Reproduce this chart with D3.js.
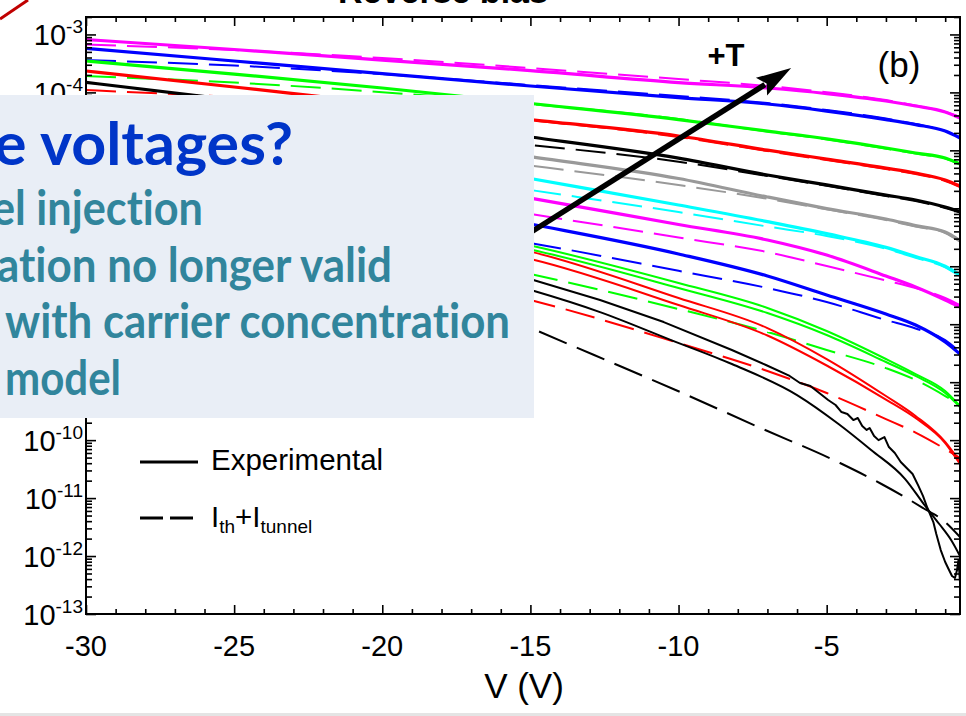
<!DOCTYPE html>
<html><head><meta charset="utf-8">
<script src="https://cdn.jsdelivr.net/npm/d3@7"></script>
<style>html,body{margin:0;padding:0;background:#fff;overflow:hidden;} svg{display:block;} text{font-variant-ligatures:none;font-feature-settings:"liga" 0;}</style>
</head><body>
<svg id="chart" width="966" height="716"></svg>
<script>
// ---------------- data ----------------
const V_GRID = [-30, -25, -20, -15, -10, -7, -5, -3, -2, -1, -0.5];

const magenta1Exp = [8.17e-4, 5.50e-4, 3.61e-4, 2.38e-4, 1.48e-4, 1.19e-4, 9.55e-5, 7.10e-5, 5.82e-5, 4.58e-5, 3.61e-5];
const magenta1Fit = [6.70e-4, 5.38e-4, 3.92e-4, 2.63e-4, 1.70e-4, 1.29e-4, 1.01e-4, 7.38e-5, 5.93e-5, 4.58e-5, 3.76e-5];
const blue1Exp = [5.75e-4, 3.48e-4, 2.11e-4, 1.29e-4, 8.13e-5, 6.30e-5, 4.76e-5, 3.40e-5, 2.78e-5, 2.15e-5, 1.63e-5];
const blue1Fit = [3.61e-4, 2.90e-4, 2.07e-4, 1.34e-4, 8.65e-5, 6.55e-5, 4.97e-5, 3.54e-5, 2.84e-5, 2.15e-5, 1.70e-5];
const green1Exp = [3.48e-4, 2.07e-4, 1.19e-4, 6.43e-5, 3.40e-5, 2.15e-5, 1.58e-5, 1.10e-5, 9.00e-6, 7.36e-6, 5.81e-6];
const green1Fit = [1.91e-4, 1.48e-4, 1.01e-4, 6.30e-5, 3.47e-5, 2.11e-5, 1.55e-5, 1.07e-5, 8.81e-6, 7.23e-6, 5.81e-6];
const red1Exp = [2.34e-4, 1.24e-4, 6.43e-5, 3.40e-5, 1.77e-5, 1.01e-5, 7.07e-6, 4.95e-6, 4.06e-6, 3.08e-6, 2.42e-6];
const red1Fit = [1.10e-4, 8.32e-5, 6.05e-5, 3.33e-5, 1.70e-5, 9.73e-6, 6.80e-6, 4.76e-6, 3.90e-6, 2.96e-6, 2.33e-6];
const black1Exp = [1.49e-4, 7.38e-5, 3.61e-5, 1.70e-5, 7.36e-6, 3.75e-6, 2.53e-6, 1.69e-6, 1.39e-6, 1.05e-6, 8.79e-7];
const black1Fit = [6.82e-5, 3.91e-5, 2.24e-5, 1.24e-5, 6.38e-6, 3.61e-6, 2.45e-6, 1.63e-6, 1.34e-6, 1.01e-6, 8.45e-7];
const grayExp = [8.00e-5, 4.06e-5, 1.91e-5, 7.82e-6, 3.27e-6, 1.57e-6, 9.90e-7, 6.53e-7, 5.02e-7, 3.90e-7, 2.76e-7];
const grayFit = [4.58e-5, 2.24e-5, 1.10e-5, 5.45e-6, 2.52e-6, 1.46e-6, 9.60e-7, 6.28e-7, 4.85e-7, 3.75e-7, 2.67e-7];
const cyanExp = [7.38e-5, 2.74e-5, 9.35e-6, 3.27e-6, 1.14e-6, 5.90e-7, 3.66e-7, 2.12e-7, 1.47e-7, 1.00e-7, 7.06e-8];
const cyanFit = [3.61e-5, 1.34e-5, 4.95e-6, 2.07e-6, 8.63e-7, 4.85e-7, 3.33e-7, 2.01e-7, 1.40e-7, 9.60e-8, 6.79e-8];
const magenta2Exp = [2.43e-5, 1.01e-5, 3.90e-6, 1.50e-6, 5.25e-7, 2.84e-7, 1.56e-7, 6.79e-8, 4.39e-8, 2.62e-8, 1.98e-8];
const magenta2Fit = [1.01e-5, 4.57e-6, 1.91e-6, 7.96e-7, 3.13e-7, 1.76e-7, 1.01e-7, 5.68e-8, 4.22e-8, 2.83e-8, 2.14e-8];
const blue2Exp = [1.01e-5, 4.57e-6, 1.63e-6, 5.36e-7, 1.63e-7, 6.79e-8, 3.19e-8, 1.50e-8, 9.68e-9, 4.93e-9, 3.06e-9];
const blue2Fit = [4.23e-6, 1.63e-6, 6.28e-7, 2.52e-7, 8.34e-8, 4.22e-8, 2.42e-8, 1.18e-8, 8.43e-9, 5.33e-9, 3.31e-9];
const green2ExpA = [6.81e-6, 2.07e-6, 6.79e-7, 2.28e-7, 5.14e-8, 1.91e-8, 7.64e-9, 2.51e-9, 1.38e-9, 7.03e-10, 3.88e-10];
const green2ExpB = [5.58e-6, 1.69e-6, 5.57e-7, 1.95e-7, 4.22e-8, 1.56e-8, 6.52e-9, 2.23e-9, 1.28e-9, 6.50e-10, 3.72e-10];
const green2Fit = [2.52e-6, 7.66e-7, 2.32e-7, 7.35e-8, 1.83e-8, 7.33e-9, 3.59e-9, 1.75e-9, 1.09e-9, 5.77e-10, 4.04e-10];
const red2ExpA = [4.57e-6, 1.39e-6, 4.57e-7, 1.79e-7, 2.83e-8, 8.59e-9, 2.51e-9, 5.77e-10, 2.61e-10, 9.29e-11, 4.20e-11];
const red2ExpB = [3.33e-6, 1.05e-6, 3.46e-7, 1.33e-7, 2.14e-8, 6.38e-9, 1.94e-9, 5.02e-10, 2.41e-10, 8.91e-11, 3.87e-11];
const red2Fit = [1.39e-6, 3.46e-7, 9.33e-8, 2.62e-8, 4.74e-9, 1.56e-9, 6.50e-10, 2.31e-10, 1.35e-10, 7.03e-11, 4.92e-11];

const black2V_A = [-30, -25, -20, -14.9, -12.65, -10.5, -8.2, -7.05, -6.25, -5.9, -5.55, -5.25, -4.95, -4.7, -4.5, -4.3, -4.1, -3.95, -3.8, -3.65, -3.55, -3.4, -3.25, -3.05, -2.9, -2.7, -2.5, -2.3, -2.1, -1.9, -1.75, -1.6, -1.4, -1.3, -1.15, -1.0, -0.87, -0.77, -0.67, -0.6, -0.55, -0.5];
const black2ExpA = [3.08e-6, 7.66e-7, 2.07e-7, 5.79e-8, 2.62e-8, 1.09e-8, 3.59e-9, 1.98e-9, 1.28e-9, 9.68e-10, 8.59e-10, 6.50e-10, 4.92e-10, 4.04e-10, 3.05e-10, 2.82e-10, 2.22e-10, 2.41e-10, 1.75e-10, 1.50e-10, 1.62e-10, 1.18e-10, 1.00e-10, 1.13e-10, 7.60e-11, 6.00e-11, 4.20e-11, 3.30e-11, 2.60e-11, 1.61e-11, 1.09e-11, 6.75e-12, 3.86e-12, 2.40e-12, 1.27e-12, 7.89e-13, 5.74e-13, 4.53e-13, 4.18e-13, 5.74e-13, 8.55e-13, 3.56e-13];
const black2V_B = [-30, -25, -20, -14.9, -12.65, -10.25, -8.2, -6.0, -4.6, -3.5, -2.35, -1.7, -1.2, -0.8, -0.5];
const black2ExpB = [2.07e-6, 5.57e-7, 1.56e-7, 3.78e-8, 1.62e-8, 5.33e-9, 2.06e-9, 6.00e-10, 1.90e-10, 6.76e-11, 2.13e-11, 7.60e-12, 3.57e-12, 1.89e-12, 1.00e-12];
const black2V_F = [-30, -25, -20, -14.9, -12.85, -10.1, -7.3, -4.55, -3.15, -1.8, -1.0, -0.5];
const black2Fit = [1.51e-5, 1.50e-6, 1.28e-7, 8.26e-9, 2.94e-9, 7.33e-10, 1.68e-10, 4.03e-11, 1.75e-11, 7.01e-12, 3.86e-12, 2.13e-12];

const X_MAJOR = [-30, -25, -20, -15, -10, -5];
const X_MINOR = d3.range(-30, 0, 1);
const Y_EXPONENTS = [-13, -12, -11, -10, -9, -8, -7, -6, -5, -4, -3];
const Y_LABELLED = [-13, -12, -11, -10, -4, -3]; // the others sit under the overlay box

const ARROW_V = [-15.35, -6.2];
const ARROW_I = [2.95e-7, 2.63e-4];

const BOX_LINES = [
  {text: "e voltages?", cls: "head"},
  {text: "el injection", cls: "sub"},
  {text: "ation no longer valid", cls: "sub"},
  {text: "with carrier concentration", cls: "sub"},
  {text: "model", cls: "sub"}
];

// ---------------- drawing ----------------
const svg = d3.select('#chart');
const FONT = "'Liberation Sans', Arial, sans-serif";
const x = d3.scaleLinear().domain([-30, -0.5]).range([86, 960]);
const y = d3.scaleLog().domain([1e-13, 2e-3]).range([614, 17]);

const zip = (vs, is) => vs.map((v, k) => [v, is[k]]);
const series = [
  {v: V_GRID, i: magenta1Fit, c: '#ff00ff', d: true},
  {v: V_GRID, i: magenta1Exp, c: '#ff00ff'},
  {v: V_GRID, i: blue1Fit, c: '#0000ff', d: true},
  {v: V_GRID, i: blue1Exp, c: '#0000ff'},
  {v: V_GRID, i: green1Fit, c: '#00ff00', d: true},
  {v: V_GRID, i: green1Exp, c: '#00ff00'},
  {v: V_GRID, i: red1Fit, c: '#ff0000', d: true},
  {v: V_GRID, i: red1Exp, c: '#ff0000'},
  {v: V_GRID, i: black1Fit, c: '#000000', d: true},
  {v: V_GRID, i: black1Exp, c: '#000000'},
  {v: V_GRID, i: grayFit, c: '#999999', d: true},
  {v: V_GRID, i: grayExp, c: '#999999'},
  {v: V_GRID, i: cyanFit, c: '#00ffff', d: true},
  {v: V_GRID, i: cyanExp, c: '#00ffff'},
  {v: V_GRID, i: magenta2Fit, c: '#ff00ff', d: true},
  {v: V_GRID, i: magenta2Exp, c: '#ff00ff'},
  {v: V_GRID, i: blue2Fit, c: '#0000ff', d: true},
  {v: V_GRID, i: blue2Exp, c: '#0000ff'},
  {v: V_GRID, i: green2Fit, c: '#00ff00', d: true},
  {v: V_GRID, i: green2ExpA, c: '#00ff00', w: 2},
  {v: V_GRID, i: green2ExpB, c: '#00ff00', w: 2},
  {v: V_GRID, i: red2Fit, c: '#ff0000', d: true},
  {v: V_GRID, i: red2ExpA, c: '#ff0000', w: 2},
  {v: V_GRID, i: red2ExpB, c: '#ff0000', w: 2},
  {v: black2V_F, i: black2Fit, c: '#000000', d: true},
  {v: black2V_B, i: black2ExpB, c: '#000000', w: 2},
  {v: black2V_A, i: black2ExpA, c: '#000000', w: 2, lin: true}
];

svg.append('defs').append('clipPath').attr('id', 'plotclip')
  .append('rect').attr('x', 86).attr('y', 17).attr('width', 874).attr('height', 597);

const lineSmooth = d3.line().x(d => x(d[0])).y(d => y(d[1])).curve(d3.curveMonotoneX);
const lineLin = d3.line().x(d => x(d[0])).y(d => y(d[1]));

const gCurves = svg.append('g').attr('clip-path', 'url(#plotclip)');
series.forEach(s => {
  gCurves.append('path')
    .attr('d', (s.lin ? lineLin : lineSmooth)(zip(s.v, s.i)))
    .attr('fill', 'none')
    .attr('stroke', s.c)
    .attr('stroke-width', s.d ? 2 : (s.w || 3.2))
    .attr('stroke-dasharray', s.d ? '30,11' : null)
    .attr('stroke-linejoin', 'round');
});

// axes
function styleAxis(g) {
  g.select('.domain').remove();
  g.selectAll('.tick line').attr('stroke', '#000').attr('stroke-width', 1.6);
  g.selectAll('.tick text').remove();
}
const yMinor = [];
Y_EXPONENTS.forEach(e => { for (let k = 2; k <= 9; k++) { const v = k * Math.pow(10, e); if (v <= 2e-3) yMinor.push(v); } });
const yMajor = Y_EXPONENTS.map(e => +('1e' + e));
const xMinorOnly = X_MINOR.filter(v => !X_MAJOR.includes(v));

svg.append('g').attr('transform', 'translate(0,614)')
  .call(d3.axisBottom(x).tickValues(xMinorOnly).tickSizeInner(-5).tickSizeOuter(0)).call(styleAxis);
svg.append('g').attr('transform', 'translate(0,614)')
  .call(d3.axisBottom(x).tickValues(X_MAJOR).tickSizeInner(-9).tickSizeOuter(0)).call(styleAxis);
svg.append('g').attr('transform', 'translate(0,17)')
  .call(d3.axisTop(x).tickValues(xMinorOnly).tickSizeInner(-5).tickSizeOuter(0)).call(styleAxis);
svg.append('g').attr('transform', 'translate(0,17)')
  .call(d3.axisTop(x).tickValues(X_MAJOR).tickSizeInner(-9).tickSizeOuter(0)).call(styleAxis);
svg.append('g').attr('transform', 'translate(86,0)')
  .call(d3.axisLeft(y).tickValues(yMinor).tickSizeInner(-6).tickSizeOuter(0)).call(styleAxis);
svg.append('g').attr('transform', 'translate(86,0)')
  .call(d3.axisLeft(y).tickValues(yMajor).tickSizeInner(-10).tickSizeOuter(0)).call(styleAxis);
svg.append('g').attr('transform', 'translate(960,0)')
  .call(d3.axisRight(y).tickValues(yMinor).tickSizeInner(-6).tickSizeOuter(0)).call(styleAxis);
svg.append('g').attr('transform', 'translate(960,0)')
  .call(d3.axisRight(y).tickValues(yMajor).tickSizeInner(-10).tickSizeOuter(0)).call(styleAxis);

svg.append('rect').attr('x', 86).attr('y', 17).attr('width', 874).attr('height', 597)
  .attr('fill', 'none').attr('stroke', '#000').attr('stroke-width', 2);

// x tick labels
svg.append('g').selectAll('text').data(X_MAJOR).join('text')
  .attr('x', d => x(d)).attr('y', 656)
  .attr('text-anchor', 'middle').attr('font-family', FONT).attr('font-size', 29)
  .text(d => String(d));
// y tick labels
const yl = svg.append('g').selectAll('text').data(Y_LABELLED).join('text')
  .attr('x', 83).attr('y', e => y(+('1e' + e)) + 11)
  .attr('text-anchor', 'end').attr('font-family', FONT).attr('font-size', 29);
yl.append('tspan').text('10');
yl.append('tspan').attr('dy', -12).attr('font-size', 19).text(e => String(e));

// axis title
svg.append('text').attr('x', 524).attr('y', 698).attr('text-anchor', 'middle')
  .attr('font-family', FONT).attr('font-size', 35).text('V (V)');

// arrow
const p0 = [x(ARROW_V[0]), y(ARROW_I[0])], p1 = [x(ARROW_V[1]), y(ARROW_I[1])];
const L = Math.hypot(p1[0] - p0[0], p1[1] - p0[1]);
const ux = (p1[0] - p0[0]) / L, uy = (p1[1] - p0[1]) / L;
const headLen = 35, halfW = 10.5;
const bx = p1[0] - ux * headLen, by = p1[1] - uy * headLen;
svg.append('line').attr('x1', p0[0]).attr('y1', p0[1]).attr('x2', bx + ux * 4).attr('y2', by + uy * 4)
  .attr('stroke', '#000').attr('stroke-width', 5.5);
svg.append('path')
  .attr('d', `M${p1[0]},${p1[1]} L${bx - uy * halfW},${by + ux * halfW} L${bx + ux * 6},${by + uy * 6} L${bx + uy * halfW},${by - ux * halfW} Z`)
  .attr('fill', '#000');

svg.append('text').attr('x', 726).attr('y', 66).attr('text-anchor', 'middle')
  .attr('font-family', FONT).attr('font-weight', 'bold').attr('font-size', 31).text('+T');
svg.append('text').attr('x', 899).attr('y', 77).attr('text-anchor', 'middle')
  .attr('font-family', FONT).attr('font-size', 35).text('(b)');

// legend
svg.append('line').attr('x1', 140).attr('x2', 198).attr('y1', 462).attr('y2', 462)
  .attr('stroke', '#000').attr('stroke-width', 3);
svg.append('text').attr('x', 211).attr('y', 470).attr('font-family', FONT).attr('font-size', 29.5).text('Experimental');
svg.append('line').attr('x1', 140).attr('x2', 193).attr('y1', 518).attr('y2', 518)
  .attr('stroke', '#000').attr('stroke-width', 3).attr('stroke-dasharray', '23,7');
const lg = svg.append('text').attr('x', 211).attr('y', 527).attr('font-family', FONT).attr('font-size', 29.5);
lg.append('tspan').text('I');
lg.append('tspan').attr('font-size', 19).attr('dy', 6).text('th');
lg.append('tspan').attr('dy', -6).text('+I');
lg.append('tspan').attr('font-size', 19).attr('dy', 6).text('tunnel');

// overlay box
svg.append('rect').attr('x', 0).attr('y', 95).attr('width', 534).attr('height', 323).attr('fill', '#e9eef6');
const boxPos = [
  {x: -6, y: 165, len: 299, size: 59},
  {x: -8, y: 225, len: 211, size: 47},
  {x: -3, y: 282, len: 395, size: 47},
  {x: 5, y: 338, len: 505, size: 47},
  {x: 5, y: 395, len: 116, size: 47}
];
BOX_LINES.forEach((l, k) => {
  const p = boxPos[k];
  svg.append('text').attr('x', p.x).attr('y', p.y)
    .attr('font-family', "Lato, 'Open Sans', sans-serif").attr('font-weight', 'bold')
    .attr('font-size', p.size)
    .attr('fill', l.cls === 'head' ? '#0035c8' : '#31859c')
    .attr('textLength', p.len).attr('lengthAdjust', 'spacingAndGlyphs')
    .text(l.text);
});

// title (cut off at top) and slide decorations
svg.append('text').attr('x', 443).attr('y', 3).attr('text-anchor', 'middle')
  .attr('font-family', FONT).attr('font-weight', 'bold').attr('font-size', 34).text('Reverse bias');
svg.append('line').attr('x1', 0).attr('y1', 19).attr('x2', 28).attr('y2', 0)
  .attr('stroke', '#c00000').attr('stroke-width', 3);
svg.append('rect').attr('x', 0).attr('y', 713).attr('width', 966).attr('height', 3).attr('fill', '#e4e4e4');
</script>
</body></html>
